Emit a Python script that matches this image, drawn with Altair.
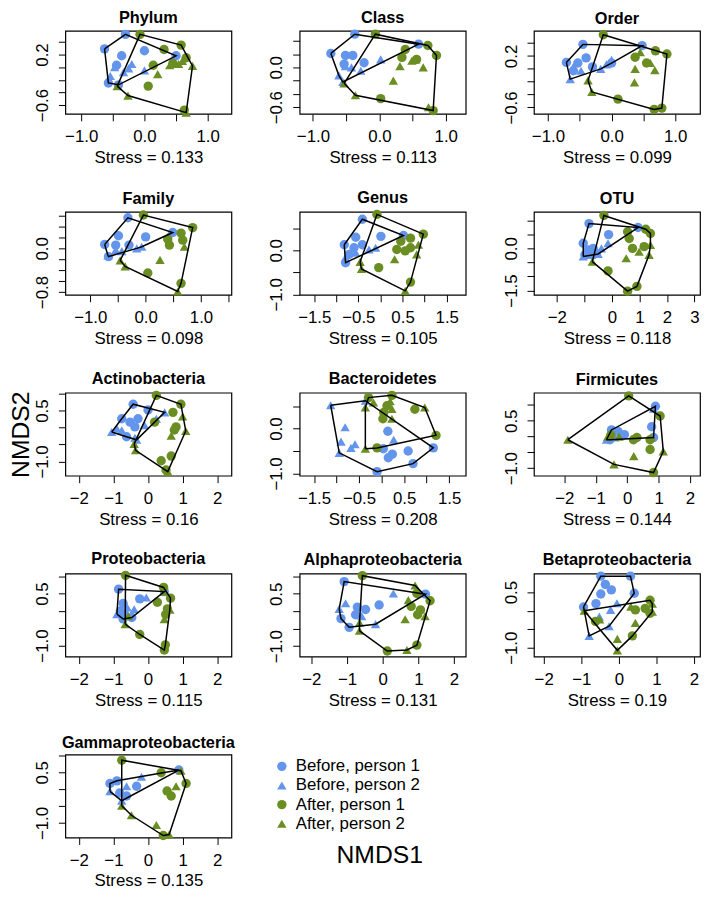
import altair as alt
import pandas as pd

FONT = "Liberation Sans"
GROUPS = ["Before, person 1", "Before, person 2", "After, person 1", "After, person 2"]
COLORS = ["#6495ED", "#6495ED", "#6B8E23", "#6B8E23"]
SHAPES = ["circle", "triangle-up", "circle", "triangle-up"]

PANELS = ["Phylum", "Class", "Order", "Family", "Genus", "OTU",
          "Actinobacteria", "Bacteroidetes", "Firmicutes",
          "Proteobacteria", "Alphaproteobacteria", "Betaproteobacteria",
          "Gammaproteobacteria"]
STRESS = ["0.133", "0.113", "0.099", "0.098", "0.105", "0.118", "0.16",
          "0.208", "0.144", "0.115", "0.131", "0.19", "0.135"]

# ---- points: B1 = before person 1, B2 = before person 2, A1 / A2 = after ----
PHYLUM_B1 = [(-0.63, 0.29), (-0.30, 0.52), (0.0, 0.26), (-0.36, 0.18), (-0.44, 0.03), (-0.57, -0.25), (-0.41, -0.28), (0.50, 0.18)]
PHYLUM_B2 = [(-0.20, 0.05), (-0.33, -0.08), (-0.54, -0.14), (0.0, -0.05), (-0.47, 0.0), (-0.25, -0.02)]
PHYLUM_A1 = [(-0.07, 0.52), (0.58, 0.35), (0.31, 0.28), (0.66, 0.15), (0.14, 0.03), (0.06, -0.30), (0.63, -0.68), (0.45, 0.06)]
PHYLUM_A2 = [(0.76, 0.02), (0.54, 0.05), (0.40, 0.03), (0.21, -0.11), (-0.26, -0.45), (-0.43, -0.30), (0.66, -0.72), (0.60, 0.10)]

CLASS_B1 = [(-0.73, 0.21), (-0.37, 0.50), (-0.51, 0.18), (-0.40, 0.18), (-0.23, 0.07), (0.59, 0.35), (-0.53, 0.05)]
CLASS_B2 = [(-0.51, 0.02), (-0.61, -0.12), (-0.28, -0.05), (0.02, 0.12), (-0.55, -0.22), (-0.42, 0.0)]
CLASS_A1 = [(-0.06, 0.50), (0.73, 0.33), (0.86, 0.18), (0.39, 0.27), (0.34, 0.15), (0.56, 0.12), (0.02, -0.47), (0.81, -0.65)]
CLASS_A2 = [(-0.53, -0.24), (-0.36, -0.42), (0.21, -0.20), (0.49, 0.10), (0.31, 0.02), (0.66, 0.0), (0.74, -0.60), (0.55, 0.12)]

ORDER_B1 = [(-0.71, 0.10), (-0.45, 0.38), (-0.40, 0.17), (-0.53, 0.09), (-0.60, -0.03), (-0.30, 0.03), (0.0, 0.09), (0.48, 0.36)]
ORDER_B2 = [(-0.65, -0.16), (-0.17, 0.0), (0.0, 0.14), (-0.08, 0.07), (-0.48, -0.03), (-0.60, 0.03)]
ORDER_A1 = [(-0.13, 0.53), (0.69, 0.28), (0.87, 0.23), (0.37, 0.18), (0.55, 0.09), (0.10, -0.47), (0.79, -0.61), (0.67, -0.63)]
ORDER_A2 = [(0.45, 0.26), (0.37, 0.0), (0.68, -0.02), (0.36, -0.21), (-0.37, -0.18), (-0.31, -0.36), (0.61, 0.09)]

FAMILY_B1 = [(-0.32, 0.56), (0.0, 0.21), (0.49, 0.29), (-0.74, 0.07), (-0.49, 0.23), (-0.54, 0.06), (-0.30, 0.06), (-0.67, -0.15)]
FAMILY_B2 = [(-0.16, 0.0), (-0.54, -0.03), (-0.68, -0.13), (-0.07, 0.03), (-0.43, -0.05)]
FAMILY_A1 = [(-0.04, 0.61), (0.85, 0.38), (0.64, 0.28), (0.40, 0.17), (0.67, 0.15), (0.43, 0.06), (0.04, -0.45), (0.64, -0.64)]
FAMILY_A2 = [(0.40, 0.21), (0.70, 0.03), (0.26, -0.21), (-0.46, -0.22), (-0.37, -0.33), (0.58, -0.79)]

GENUS_B1 = [(-0.41, 0.71), (0.01, 0.32), (0.52, 0.34), (-0.82, 0.13), (-0.56, 0.30), (-0.60, 0.06), (-0.41, 0.13), (-0.71, -0.09), (-0.79, -0.28)]
GENUS_B2 = [(-0.79, -0.16), (-0.11, 0.06), (-0.26, 0.02), (-0.56, -0.05)]
GENUS_A1 = [(-0.08, 0.82), (0.97, 0.37), (0.68, 0.28), (0.46, 0.21), (0.68, 0.06), (0.37, 0.02), (0.56, -0.01), (-0.04, -0.39), (0.68, -0.72)]
GENUS_A2 = [(0.86, 0.13), (0.82, -0.09), (0.32, -0.20), (-0.46, -0.26), (-0.43, -0.42), (0.56, -0.92)]

OTU_B1 = [(-0.83, 0.88), (-0.12, 0.49), (0.95, 0.74), (-1.04, 0.18), (-0.86, -0.06), (-0.98, -0.23), (-0.68, 0.0), (-0.56, -0.18)]
OTU_B2 = [(-1.04, -0.29), (-0.14, 0.18), (-0.38, 0.0), (-0.74, -0.23), (-0.50, -0.20)]
OTU_A1 = [(-0.29, 1.17), (1.23, 0.68), (1.40, 0.53), (0.57, 0.59), (0.63, 0.35), (0.75, 0.0), (1.17, 0.06), (-0.14, -0.80), (0.91, -1.35), (0.57, -1.52)]
OTU_A2 = [(1.40, 0.12), (0.99, -0.12), (0.52, -0.35), (-0.71, -0.47), (1.35, -0.23)]

ACTINO_B1 = [(-0.43, 0.69), (0.0, 0.52), (-0.76, 0.26), (-0.52, 0.16), (-0.29, 0.26), (-0.62, -0.27), (-0.38, 0.02)]
ACTINO_B2 = [(-1.05, -0.13), (-0.76, -0.08), (-0.10, 0.07), (-0.38, -0.30), (0.24, 0.26), (-0.90, -0.03), (0.48, 0.45), (-0.33, -0.36)]
ACTINO_A1 = [(0.24, 0.95), (0.95, 0.69), (0.72, 0.45), (0.81, 0.02), (0.76, -0.07), (0.67, -0.84), (0.38, -0.98), (0.52, -1.25), (0.19, 0.16)]
ACTINO_A2 = [(1.0, 0.33), (1.09, -0.10), (0.67, -0.24), (-0.40, -0.48), (-0.36, -0.67), (0.57, -1.30)]

BACTERO_B1 = [(0.14, -0.06), (0.24, -0.57), (0.15, -0.65), (0.59, -0.50), (0.70, -0.78), (1.15, -0.43), (-0.10, -0.96), (0.04, -0.45)]
BACTERO_B2 = [(-1.13, 0.52), (-0.36, 0.62), (-0.81, 0.03), (-0.90, -0.29), (-0.59, -0.35), (-0.94, -0.54), (0.27, -0.25), (-0.68, -0.43)]
BACTERO_A1 = [(-0.29, 0.69), (0.23, 0.74), (0.12, 0.51), (0.05, 0.36), (0.03, 0.22), (0.74, 0.43), (1.21, -0.15), (-0.10, -0.43)]
BACTERO_A2 = [(-0.36, 0.47), (-0.18, 0.58), (0.19, 0.61), (0.23, 0.44), (0.23, 0.22), (0.96, 0.47), (-0.36, -0.45)]

FIRMI_B1 = [(0.90, 0.96), (0.78, 0.31), (-0.50, 0.21), (-0.29, 0.16), (-0.09, 0.06), (0.84, -0.03), (-0.55, -0.10)]
FIRMI_B2 = [(-0.66, -0.10), (-0.39, -0.03), (0.84, 0.88), (-0.20, 0.05)]
FIRMI_A1 = [(0.05, 1.29), (1.05, 0.65), (0.73, -0.10), (0.73, -0.41), (0.84, -1.14), (0.20, -0.10), (0.31, -0.03), (-0.52, 0.05)]
FIRMI_A2 = [(-1.89, -0.10), (-0.42, -0.88), (0.21, -0.62), (1.15, -0.47), (-0.26, 0.0), (-0.62, 0.0), (0.76, -0.03)]

PROTEO_B1 = [(-0.85, 0.63), (-0.24, 0.35), (-0.72, 0.22), (-0.80, 0.0), (-0.69, -0.07), (-0.72, -0.23), (0.47, 0.56), (-0.47, -0.19)]
PROTEO_B2 = [(-0.90, -0.09), (-0.05, 0.39), (-0.60, 0.10), (-0.40, 0.05)]
PROTEO_A1 = [(-0.65, 1.03), (0.45, 0.68), (0.65, 0.37), (0.56, 0.06), (0.51, -0.10), (0.27, 0.25), (-0.24, -0.68), (0.50, -0.98), (0.47, -1.13)]
PROTEO_A2 = [(0.47, 0.56), (0.63, 0.04), (0.47, -0.24), (-0.66, -0.38), (-0.57, -0.15)]

ALPHA_B1 = [(-1.08, 0.85), (1.20, 0.49), (-0.71, 0.12), (-0.48, 0.05), (-0.10, 0.18), (-1.17, -0.21), (-0.94, -0.46), (-0.76, -0.10)]
ALPHA_B2 = [(-1.22, 0.07), (-1.04, 0.23), (0.30, 0.51), (-0.20, -0.37), (-0.59, -0.14)]
ALPHA_A1 = [(-0.57, 1.02), (0.96, 0.51), (1.33, 0.30), (1.06, 0.04), (0.98, -0.10), (0.80, 0.14), (0.96, -0.97), (0.13, -1.14)]
ALPHA_A2 = [(0.91, 0.74), (0.63, -0.23), (1.19, -0.14), (-0.65, -0.33), (-0.65, -0.56), (0.68, -1.11), (0.72, 0.32)]

BETA_B1 = [(-0.48, 0.93), (0.31, 0.93), (-0.36, 0.71), (-0.20, 0.56), (-0.61, 0.19), (-0.94, 0.10), (0.41, 0.47), (-0.48, 0.45)]
BETA_B2 = [(-0.52, -0.16), (-0.22, 0.02), (-0.05, 0.20), (-0.26, -0.42), (-0.79, -0.68)]
BETA_A1 = [(0.83, 0.28), (0.70, 0.06), (0.83, -0.07), (0.36, -0.68), (-0.62, -0.29), (0.44, 0.02)]
BETA_A2 = [(-0.92, 0.0), (-0.51, -0.24), (0.32, 0.11), (0.89, -0.03), (0.44, -0.33), (-0.04, -0.76), (-0.04, -1.07), (0.89, 0.19)]

GAMMA_B1 = [(-1.10, 0.17), (-0.82, -0.11), (-0.62, -0.20), (-0.33, 0.09), (0.89, 0.57), (-0.90, 0.25)]
GAMMA_B2 = [(-1.10, -0.06), (-0.62, 0.09), (-0.76, -0.34), (-0.19, 0.37)]
GAMMA_A1 = [(-0.76, 0.86), (0.38, 0.49), (1.10, 0.17), (0.67, -0.20), (0.44, -1.37), (0.55, -0.05)]
GAMMA_A2 = [(-0.76, -0.49), (-0.48, -0.77), (0.24, -1.06), (0.61, -1.34), (0.81, 0.09), (0.95, 0.55)]

# ---- axes ----
X_DOMAIN = [[-1.25, 1.375], [-1.2, 1.3], [-1.22, 1.39], [-1.45, 1.55], [-1.83, 1.93], [-2.83, 3.2],
            [-2.39, 2.41], [-1.82, 1.87], [-2.97, 2.32], [-2.39, 2.41], [-2.33, 2.33], [-2.26, 2.16],
            [-2.39, 2.41]]
Y_DOMAIN = [[-0.74, 0.575], [-0.70, 0.55], [-0.70, 0.59], [-0.85, 0.67], [-1.01, 0.88], [-1.65, 1.30],
            [-1.42, 1.03], [-1.05, 0.80], [-1.24, 1.39], [-1.32, 1.08], [-1.30, 1.08], [-1.24, 1.0],
            [-1.43, 1.03]]
X_TICKS_A = [-1.0, -0.5, 0.0, 0.5, 1.0]
X_TICKS_B = [-1.0, -0.5, 0.0, 0.5, 1.0, 1.5]
X_TICKS_C = [-1.5, -1.0, -0.5, 0.0, 0.5, 1.0, 1.5]
X_TICKS_D = [-2, -1, 0, 1, 2, 3]
X_TICKS_E = [-2, -1, 0, 1, 2]
X_TICKS = [X_TICKS_A, X_TICKS_A, X_TICKS_A, X_TICKS_B, X_TICKS_C, X_TICKS_D,
           X_TICKS_E, X_TICKS_C, X_TICKS_E, X_TICKS_E, X_TICKS_E, X_TICKS_E, X_TICKS_E]
X_LABELED = [[-1, 0, 1], [-1, 0, 1], [-1, 0, 1], [-1, 0, 1], [-1.5, -0.5, 0.5, 1.5], [-2, 0, 1, 2, 3],
             X_TICKS_E, [-1.5, -0.5, 0.5, 1.5], X_TICKS_E, X_TICKS_E, X_TICKS_E, X_TICKS_E, X_TICKS_E]
X_FORMAT = [".1f", ".1f", ".1f", ".1f", ".1f", "d", "d", ".1f", "d", "d", "d", "d", "d"]
Y_TICKS_A = [0.4, 0.2, 0.0, -0.2, -0.4, -0.6]
Y_TICKS_B = [0.6, 0.4, 0.2, 0.0, -0.2, -0.4, -0.6, -0.8]
Y_TICKS_C = [0.5, 0.0, -0.5, -1.0]
Y_TICKS_D = [1.0, 0.5, 0.0, -0.5, -1.0, -1.5]
Y_TICKS_E = [1.0, 0.5, 0.0, -0.5, -1.0]
Y_TICKS = [Y_TICKS_A, Y_TICKS_A, Y_TICKS_A, Y_TICKS_B, Y_TICKS_C, Y_TICKS_D,
           Y_TICKS_E, Y_TICKS_C, Y_TICKS_E, Y_TICKS_E, Y_TICKS_E, Y_TICKS_C, Y_TICKS_E]
Y_LABELED = [[0.2, -0.6], [0.0, -0.6], [0.2, -0.6], [0.0, -0.8], [0.0, -1.0], [0.0, -1.5],
             [0.5, -1.0], [0.0, -1.0], [0.5, -1.0], [0.5, -1.0], [0.5, -1.0], [0.5, -1.0], [0.5, -1.0]]

POINTS = [
    [PHYLUM_B1, PHYLUM_B2, PHYLUM_A1, PHYLUM_A2],
    [CLASS_B1, CLASS_B2, CLASS_A1, CLASS_A2],
    [ORDER_B1, ORDER_B2, ORDER_A1, ORDER_A2],
    [FAMILY_B1, FAMILY_B2, FAMILY_A1, FAMILY_A2],
    [GENUS_B1, GENUS_B2, GENUS_A1, GENUS_A2],
    [OTU_B1, OTU_B2, OTU_A1, OTU_A2],
    [ACTINO_B1, ACTINO_B2, ACTINO_A1, ACTINO_A2],
    [BACTERO_B1, BACTERO_B2, BACTERO_A1, BACTERO_A2],
    [FIRMI_B1, FIRMI_B2, FIRMI_A1, FIRMI_A2],
    [PROTEO_B1, PROTEO_B2, PROTEO_A1, PROTEO_A2],
    [ALPHA_B1, ALPHA_B2, ALPHA_A1, ALPHA_A2],
    [BETA_B1, BETA_B2, BETA_A1, BETA_A2],
    [GAMMA_B1, GAMMA_B2, GAMMA_A1, GAMMA_A2],
]

W, H = 168, 84
PT_SIZE = 90


def convex_hull(pts):
    pts = sorted(set(pts))
    if len(pts) < 3:
        return pts

    def cross(o, a, b):
        return (a[0] - o[0]) * (b[1] - o[1]) - (a[1] - o[1]) * (b[0] - o[0])

    lower = []
    for p in pts:
        while len(lower) >= 2 and cross(lower[-2], lower[-1], p) <= 0:
            lower.pop()
        lower.append(p)
    upper = []
    for p in reversed(pts):
        while len(upper) >= 2 and cross(upper[-2], upper[-1], p) <= 0:
            upper.pop()
        upper.append(p)
    return lower[:-1] + upper[:-1]


def label_expr(vals):
    cond = " || ".join("abs(datum.value - (%s)) < 1e-6" % v for v in vals)
    return "(%s) ? datum.label : ''" % cond


color_enc = alt.Color("group:N", scale=alt.Scale(domain=GROUPS, range=COLORS), legend=None)
shape_enc = alt.Shape("group:N", scale=alt.Scale(domain=GROUPS, range=SHAPES), legend=None)


def panel(i):
    rows = []
    for g, pts in zip(GROUPS, POINTS[i]):
        for x, y in pts:
            rows.append({"x": x, "y": y, "group": g})
    df = pd.DataFrame(rows)

    hrows = []
    for name, pts in [("before", POINTS[i][0] + POINTS[i][1]), ("after", POINTS[i][2] + POINTS[i][3])]:
        h = convex_hull(pts)
        h = h + [h[0]]
        for k, (x, y) in enumerate(h):
            hrows.append({"x": x, "y": y, "hull": name, "order": k})
    hdf = pd.DataFrame(hrows)

    yaxis_kw = dict(values=Y_TICKS[i], labelExpr=label_expr(Y_LABELED[i]), format=".1f",
                    labelAngle=270, labelAlign="center", labelBaseline="alphabetic",
                    labelPadding=11, labelFlush=False)
    if PANELS[i] == "Actinobacteria":
        yaxis = alt.Axis(title="NMDS2", titleFontSize=25, titlePadding=0, **yaxis_kw)
    else:
        yaxis = alt.Axis(title="", **yaxis_kw)
    xaxis = alt.Axis(values=X_TICKS[i], labelExpr=label_expr(X_LABELED[i]), format=X_FORMAT[i],
                     title="Stress = " + STRESS[i], labelFlush=False)
    xenc = alt.X("x:Q", scale=alt.Scale(domain=X_DOMAIN[i], nice=False, zero=False), axis=xaxis)
    yenc = alt.Y("y:Q", scale=alt.Scale(domain=Y_DOMAIN[i], nice=False, zero=False), axis=yaxis)

    pts_layer = alt.Chart(df).mark_point(filled=True, size=PT_SIZE, opacity=1).encode(
        x=xenc, y=yenc, color=color_enc, shape=shape_enc)
    hull_layer = alt.Chart(hdf).mark_line(color="black", strokeWidth=1.5).encode(
        x=xenc, y=yenc, detail="hull:N", order="order:Q")
    return alt.layer(pts_layer, hull_layer).properties(width=W, height=H, title=PANELS[i])


charts = [panel(i) for i in range(len(PANELS))]

leg_df = pd.DataFrame({"group": GROUPS})
ly = alt.Y("group:N", axis=None,
           scale=alt.Scale(type="point", domain=GROUPS, range=[12, 70], padding=0))
leg_sym = alt.Chart(leg_df).mark_point(filled=True, size=PT_SIZE, opacity=1).encode(
    x=alt.value(-18), y=ly, color=color_enc, shape=shape_enc)
leg_txt = alt.Chart(leg_df).mark_text(align="left", baseline="middle", fontSize=17, font=FONT,
                                      color="black").encode(x=alt.value(-4), y=ly, text="group:N")
nmds1 = alt.Chart(pd.DataFrame({"t": ["NMDS1"]})).mark_text(
    align="center", baseline="middle", fontSize=25, font=FONT, color="black").encode(
    x=alt.value(81), y=alt.value(102), text="t:N")
legend_cell = alt.layer(leg_sym, leg_txt, nmds1).properties(
    width=W, height=H, view=alt.ViewBackground(stroke="transparent"))

chart = alt.concat(*charts, legend_cell, columns=3,
                   spacing=alt.RowColnumber(row=99, column=69)).properties(
    bounds="flush", padding={"left": 0, "top": -4, "right": 0, "bottom": 0}, background="white"
).configure_view(stroke="black", strokeWidth=1.2).configure_axis(
    domain=False, grid=False, tickColor="black", tickSize=7, tickWidth=1,
    labelColor="black", labelFont=FONT, labelFontSize=17, labelOverlap=False,
    titleFont=FONT, titleFontSize=17, titleFontWeight="normal", titleColor="black",
    labelPadding=8, titlePadding=5
).configure_title(font=FONT, fontSize=16.5, fontWeight="bold", color="black",
                  anchor="middle", offset=3)

chart.save("out.html", embed_options={"renderer": "svg", "actions": False})
